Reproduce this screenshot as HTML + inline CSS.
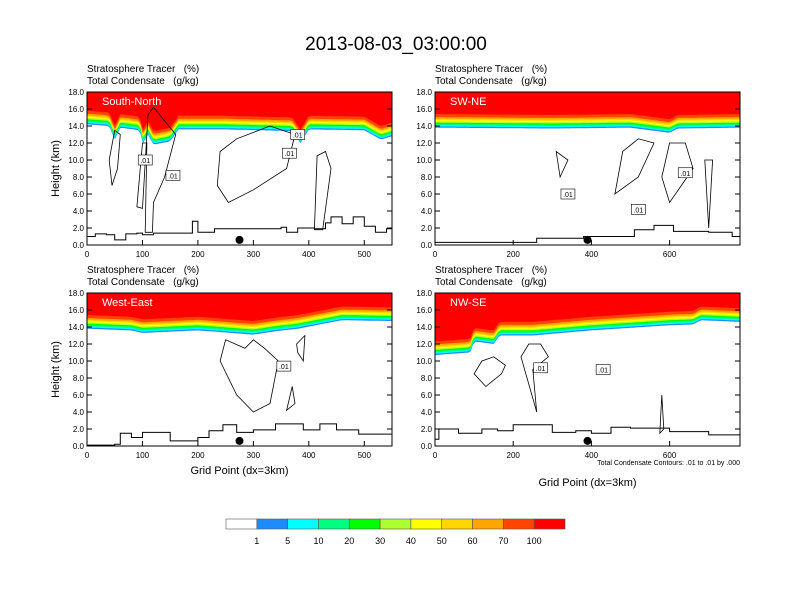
<!DOCTYPE html>
<html><head><meta charset="utf-8"><style>
body{margin:0;background:#fff}
svg{display:block;font-family:"Liberation Sans",sans-serif}
text{white-space:pre}
</style></head><body>
<svg id="s" width="792" height="612" viewBox="0 0 792 612">
<text x="396" y="50" font-size="19" text-anchor="middle">2013-08-03_03:00:00</text>
</svg>
<script>
const colors=["#ffffff","#1e8cff","#00ffff","#00ff80","#00ff00","#adff2f","#ffff00","#ffd700","#ffa500","#ff4500","#ff0000"];
const cbLabels=["1","5","10","20","30","40","50","60","70","100"];
// tropopause base height (km) per panel: [gridpoint, km]
const tlBase=[[0,14.2],[40,14.0],[50,12.4],[60,13.8],[95,13.5],[100,11.9],[110,13.0],[120,11.8],[150,12.2],[165,13.6],[250,13.6],[370,13.4],[385,12.0],[400,13.6],[500,13.5],[530,12.4],[550,12.8]];
const trBase=[[0,13.8],[300,13.7],[500,13.8],[600,13.2],[620,13.7],[780,13.8]];
const blBase=[[0,13.8],[80,13.6],[100,13.3],[200,13.6],[300,13.1],[340,13.5],[380,13.8],[460,14.8],[550,14.7]];
const brBase=[[0,10.7],[90,11.0],[100,12.3],[150,12.0],[165,13.0],[250,13.0],[400,13.6],[600,14.2],[660,14.3],[680,14.8],[780,14.6]];
// terrain (km)
const tlTerr=[[0,1.0],[15,1.3],[35,1.2],[50,0.6],[70,1.3],[90,1.4],[100,1.2],[120,1.4],[180,1.4],[190,2.8],[200,1.5],[230,1.9],[300,1.9],[350,2.1],[360,1.5],[380,2.0],[410,1.9],[430,2.6],[440,3.3],[460,2.5],[480,3.3],[500,2.2],[520,1.5],[540,1.9],[550,1.9]];
const trTerr=[[0,0.3],[230,0.3],[260,0.8],[350,0.8],[380,1.0],[480,1.0],[510,1.8],[560,2.3],[610,1.6],[700,1.5],[760,1.0],[780,0.6]];
const blTerr=[[0,0.1],[50,0.2],[60,1.5],[80,1.0],[100,1.6],[150,0.6],[200,1.0],[220,1.8],[245,2.5],[270,1.6],[300,1.9],[340,2.6],[370,2.6],[390,1.9],[420,2.6],[450,1.9],[490,1.4],[550,1.0]];
const brTerr=[[0,0.8],[10,2.0],[60,1.5],[120,2.0],[160,1.8],[200,2.5],[300,1.6],[360,1.8],[400,1.5],[450,2.2],[500,2.1],[600,1.7],[700,1.3],[780,0.4]];
// condensate .01 contour loops [gridpoint, km]
const tlCont=[[[50,13.5],[40,10],[45,7],[55,9],[60,13]],[[100,12],[90,4.5],[100,4.3],[110,15.3],[120,16.2],[160,13],[140,8],[120,5],[118,1.5],[105,1.5],[108,12]],[[240,11],[235,7],[255,5],[300,6.5],[360,9],[375,13],[330,14],[270,12.5]],[[410,1.8],[415,10.5],[430,11],[440,9],[425,1.8]]];
const trCont=[[[310,11],[320,8],[340,10]],[[520,12.5],[480,11],[460,6],[520,8],[560,12]],[[600,12],[580,8],[600,5],[660,9],[640,12]],[[690,10],[700,2],[710,10]]];
const blCont=[[[250,12.5],[240,10],[270,6],[300,4],[330,5],[345,10],[320,11.5],[300,12.5],[285,11.5]],[[370,7],[360,4.2],[375,5]],[[380,11],[390,10],[393,13],[378,12]]];
const brCont=[[[120,10],[100,8.5],[130,7],[170,8.5],[180,9.5],[150,10.5]],[[240,12],[220,10.5],[260,4],[250,9],[290,10.5],[270,12]],[[580,6],[575,1.5],[585,2]]];
const panels=[
 {x0:87,y0:92,xmax:550,ticks:[0,100,200,300,400,500],label:"South-North",base:tlBase,terr:tlTerr,cont:tlCont,dot:275,labs:[[105,10],[155,8.2],[365,10.8],[380,13]],ylab:true},
 {x0:435,y0:92,xmax:780,ticks:[0,200,400,600],label:"SW-NE",base:trBase,terr:trTerr,cont:trCont,dot:390,labs:[[340,6],[520,4.2],[640,8.5]]},
 {x0:87,y0:293,xmax:550,ticks:[0,100,200,300,400,500],label:"West-East",base:blBase,terr:blTerr,cont:blCont,dot:275,labs:[[355,9.4]],ylab:true,xlab:28},
 {x0:435,y0:293,xmax:780,ticks:[0,200,400,600],label:"NW-SE",base:brBase,terr:brTerr,cont:brCont,dot:390,labs:[[270,9.2],[430,9]],xlab:40,note:true}];
const NS="http://www.w3.org/2000/svg",S=document.getElementById('s');
function mk(t,a,p){const e=document.createElementNS(NS,t);for(const k in a)e.setAttribute(k,a[k]);(p||S).appendChild(e);return e;}
function interp(arr,x){for(let i=1;i<arr.length;i++)if(x<=arr[i][0]){const a=arr[i-1],b=arr[i];return a[1]+(b[1]-a[1])*(x-a[0])/(b[0]-a[0]);}return arr[arr.length-1][1];}
const W=305,H=153;
const offs=[0,0.15,0.3,0.45,0.6,0.75,0.9,1.05,1.25,1.6];
panels.forEach((p,pi)=>{
 const g=mk('g',{});
 
 
 const sx=v=>p.x0+v*W/p.xmax, sy=v=>p.y0+H-v*H/18;
 const t1=mk('text',{x:p.x0,y:p.y0-20,'font-size':10},g);t1.textContent="Stratosphere Tracer   (%)";
 
 const t2=mk('text',{x:p.x0,y:p.y0-8,'font-size':10},g);t2.textContent="Total Condensate   (g/kg)";
 
 for(let c=1;c<=10;c++){
  const off=offs[c-1];let d="M"+sx(0)+","+p.y0;
  for(let v=0;v<=p.xmax+0.01;v+=p.xmax/120){d+=" L"+sx(v).toFixed(1)+","+Math.min(sy(interp(p.base,v)+off),p.y0+H).toFixed(1);}
  d+=" L"+sx(p.xmax)+","+p.y0+"Z";
  const b=mk('path',{d:d,fill:colors[c]},g);
  
 }
 const lab=mk('text',{x:p.x0+15,y:p.y0+13,'font-size':11,fill:'#fff'},g);lab.textContent=p.label;
 
 p.cont.forEach(l=>{const c=mk('path',{d:"M"+l.map(q=>sx(q[0]).toFixed(1)+","+sy(q[1]).toFixed(1)).join(" L")+"Z",fill:'none',stroke:'#000','stroke-width':0.8},g);
  });
 p.labs.forEach(l=>{const r=mk('rect',{x:sx(l[0])-7,y:sy(l[1])-5,width:14,height:10,fill:'#fff',stroke:'#000','stroke-width':0.6},g);
  
  const t=mk('text',{x:sx(l[0]),y:sy(l[1])+3,'font-size':7,'text-anchor':'middle'},g);t.textContent=".01";
  });
 const tr=mk('polyline',{points:p.terr.map((q,i)=>{const n=p.terr[i+1];return sx(q[0]).toFixed(1)+","+sy(q[1]).toFixed(1)+(n?" "+sx(n[0]).toFixed(1)+","+sy(q[1]).toFixed(1):"");}).join(" "),fill:'none',stroke:'#000','stroke-width':1},g);
 
 const dot=mk('circle',{cx:sx(p.dot),cy:sy(0.6),r:4,fill:'#000'},g);
 
 const fr=mk('rect',{x:p.x0,y:p.y0,width:W,height:H,fill:'none',stroke:'#000','stroke-width':1},g);
 
 for(let k=0;k<=9;k++){const v=k*2,y=sy(v);
  mk('line',{x1:p.x0,x2:p.x0+5,y1:y,y2:y,stroke:'#000'},g);mk('line',{x1:p.x0+W-5,x2:p.x0+W,y1:y,y2:y,stroke:'#000'},g);
  const t=mk('text',{x:p.x0-3,y:y+3,'font-size':8,'text-anchor':'end'},g);t.textContent=v.toFixed(1);
  }
 p.ticks.forEach(v=>{const x=sx(v);mk('line',{x1:x,x2:x,y1:p.y0+H,y2:p.y0+H-5,stroke:'#000'},g);
  const t=mk('text',{x:x,y:p.y0+H+12,'font-size':8,'text-anchor':'middle'},g);t.textContent=v;
  });
 if(p.ylab){const t=mk('text',{x:0,y:0,'font-size':11,'text-anchor':'middle',transform:`translate(${p.x0-28},${p.y0+H/2}) rotate(-90)`},g);t.textContent="Height (km)";
  }
 if(p.xlab){const t=mk('text',{x:p.x0+W/2,y:p.y0+H+p.xlab,'font-size':11,'text-anchor':'middle'},g);t.textContent="Grid Point (dx=3km)";
  }
 if(p.note){const t=mk('text',{x:p.x0+W,y:p.y0+H+19,'font-size':7,'text-anchor':'end'},g);t.textContent="Total Condensate Contours: .01 to .01 by .000";
  }
});
const cb=mk('g',{});


const bw=339/11;
colors.forEach((c,i)=>{const r=mk('rect',{x:226+i*bw,y:519,width:bw,height:10,fill:c,stroke:'#555','stroke-width':0.6},cb);
 });
cbLabels.forEach((l,i)=>{const t=mk('text',{x:226+(i+1)*bw,y:544,'font-size':9,'text-anchor':'middle'},cb);t.textContent=l;
 });
</script>
</body></html>
